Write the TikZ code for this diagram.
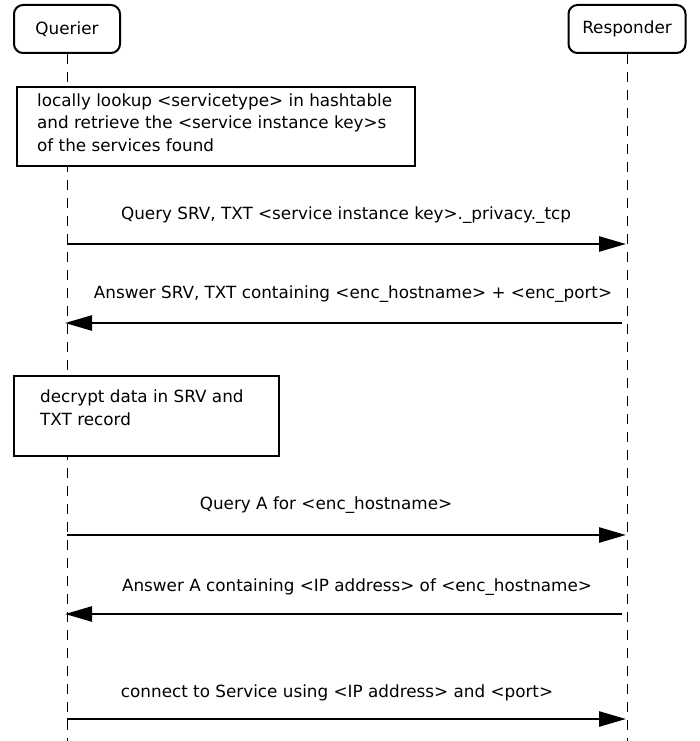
\documentclass[tikz,border=0pt]{standalone}
\usepackage{fontspec}
\setmainfont{DejaVu Sans}
\usetikzlibrary{arrows.meta}
\begin{document}
\begin{tikzpicture}[x=1pt,y=-1pt,
  font=\fontsize{16.8}{22.5}\selectfont,
  actor/.style={draw,line width=2pt,rounded corners=9pt,minimum height=48pt,inner sep=0pt,fill=white},
  note/.style={draw,line width=2.2pt,inner sep=0pt,anchor=north west,fill=white},
  life/.style={line width=1pt,dash pattern=on 10pt off 8pt},
  msg/.style={line width=2.5pt,-{Triangle[length=27pt,width=15pt]}},
  lbl/.style={inner sep=0pt,anchor=base}]
\useasboundingbox (0,0) rectangle (699,741);
% actors
\node[actor,minimum width=106pt] (Q) at (67,29) {Querier};
\node[actor,minimum width=117pt] (R) at (627,29) {Responder};
\coordinate (Qend) at (67,741);
\coordinate (Rend) at (627,741);
\draw[life] (Q.south) -- (Qend);
\draw[life] (R.south) -- (Rend);
% note 1
\node[note,minimum width=398pt,minimum height=79pt] (N1) at (16,86) {};
\node[inner sep=0pt,anchor=north west,align=left] (N1t) at (37,93.5) {locally lookup <servicetype> in hashtable\\and retrieve the <service instance key>s\\of the services found};
% message 1
\coordinate (q1) at (67,244);
\coordinate (r1) at (626,244);
\draw[msg] (q1) -- (r1);
\node[lbl] (m1) at (346,219) {Query SRV, TXT <service instance key>.\_privacy.\_tcp};
% message 2
\coordinate (q2) at (65,323);
\coordinate (r2) at (622,323);
\draw[msg] (r2) -- (q2);
\node[lbl] (m2) at (353,298) {Answer SRV, TXT containing <enc\_hostname> + <enc\_port>};
% note 2
\node[note,minimum width=265pt,minimum height=80pt] (N2) at (13,375) {};
\node[inner sep=0pt,anchor=north west,align=left] (N2t) at (40,390) {decrypt data in SRV and\\TXT record};
% message 3
\coordinate (q3) at (67,535);
\coordinate (r3) at (626,535);
\draw[msg] (q3) -- (r3);
\node[lbl] (m3) at (326,509) {Query A for <enc\_hostname>};
% message 4
\coordinate (q4) at (65,614);
\coordinate (r4) at (622,614);
\draw[msg] (r4) -- (q4);
\node[lbl] (m4) at (357,591) {Answer A containing <IP address> of <enc\_hostname>};
% message 5
\coordinate (q5) at (67,719);
\coordinate (r5) at (626,719);
\draw[msg] (q5) -- (r5);
\node[lbl] (m5) at (337,697) {connect to Service using <IP address> and <port>};
\end{tikzpicture}
\end{document}
